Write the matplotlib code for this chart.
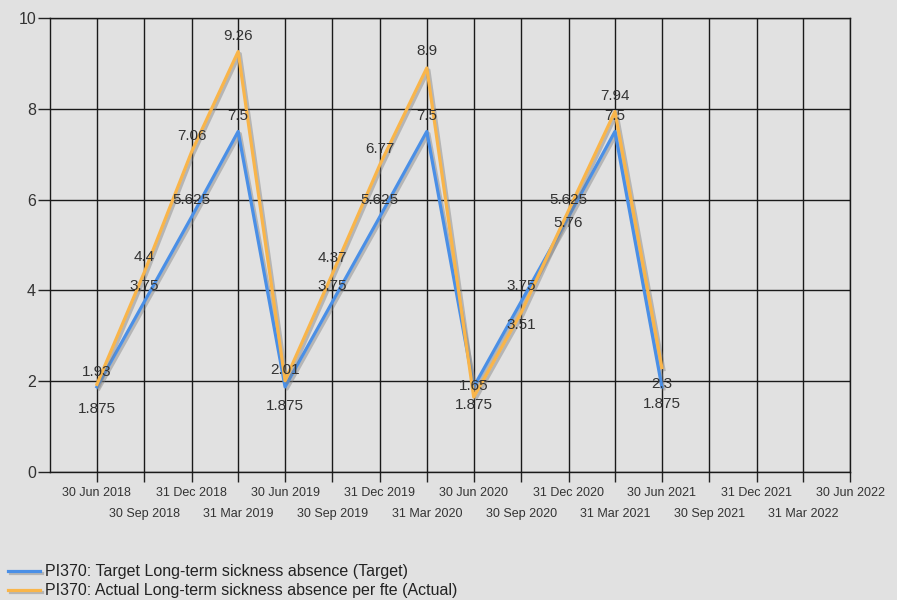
import pandas as pd
import matplotlib
matplotlib.use("Agg")
import matplotlib.pyplot as plt
import matplotlib.patheffects as pe

plt.rcParams['font.family'] = ['Liberation Sans', 'DejaVu Sans']

# quarter-end reporting dates
dates = ["2018-06-30", "2018-09-30", "2018-12-31", "2019-03-31", "2019-06-30",
         "2019-09-30", "2019-12-31", "2020-03-31", "2020-06-30", "2020-09-30",
         "2020-12-31", "2021-03-31", "2021-06-30"]
target = [1.875, 3.75, 5.625, 7.5, 1.875, 3.75, 5.625, 7.5, 1.875, 3.75, 5.625, 7.5, 1.875]
actual = [1.93, 4.4, 7.06, 9.26, 2.01, 4.37, 6.77, 8.9, 1.65, 3.51, 5.76, 7.94, 2.3]

target_name = "PI370: Target Long-term sickness absence (Target)"
actual_name = "PI370: Actual Long-term sickness absence per fte (Actual)"

axis_start = "2018-03-31"
axis_end = "2022-06-30"
tick_dates = ["2018-06-30", "2018-09-30", "2018-12-31", "2019-03-31", "2019-06-30",
              "2019-09-30", "2019-12-31", "2020-03-31", "2020-06-30", "2020-09-30",
              "2020-12-31", "2021-03-31", "2021-06-30", "2021-09-30", "2021-12-31",
              "2022-03-31", "2022-06-30"]

x = pd.to_datetime(dates)
ticks = pd.to_datetime(tick_dates)
tick_labels = [d.strftime("%d %b %Y") for d in ticks]

bg = "#e1e1e1"
blue = "#4a8fe6"
orange = "#f9b54a"
txt = "#333333"

fig = plt.figure(figsize=(8.97, 6.0), dpi=100, facecolor=bg)
ax = fig.add_axes([50 / 897, 1 - 472 / 600, 800 / 897, 454 / 600])
ax.set_facecolor(bg)

shadow = [pe.SimpleLineShadow(offset=(1.5, -1.5), shadow_color="#808080", alpha=0.45), pe.Normal()]
ax.plot(x, target, color=blue, lw=2.3, path_effects=shadow, label=target_name, zorder=3)
ax.plot(x, actual, color=orange, lw=2.3, path_effects=shadow, label=actual_name, zorder=4)

# value labels, vertical offset in points (positive = above the point)
target_off = [-16, 11, 12, 11, -14, 11, 12, 11, -13, 11, 12, 11, -12]
actual_off = [9, 11, 11, 11, 8, 11, 11, 12, 8, -9, -9, 11, -12]
for xi, v, dy in zip(x, target, target_off):
    ax.annotate(f"{v:g}", (xi, v), xytext=(0, dy), textcoords="offset points",
                ha="center", va="center", fontsize=11, color=txt, zorder=6)
for xi, v, dy in zip(x, actual, actual_off):
    ax.annotate(f"{v:g}", (xi, v), xytext=(0, dy), textcoords="offset points",
                ha="center", va="center", fontsize=11, color=txt, zorder=6)

ax.set_xlim(pd.Timestamp(axis_start), pd.Timestamp(axis_end))
ax.set_ylim(0, 10)
ax.set_yticks(range(0, 11, 2))

# alternate date labels on two rows
ax.set_xticks(ticks[::2], tick_labels[::2])
ax.set_xticks(ticks[1::2], tick_labels[1::2], minor=True)
ax.tick_params(axis="x", which="major", length=7, width=1, color="#222222",
               labelsize=9, labelcolor=txt, pad=4)
ax.tick_params(axis="x", which="minor", length=7, width=1, color="#222222",
               labelsize=9, labelcolor=txt, pad=19)
ax.tick_params(axis="y", length=9, width=1, color="#222222", labelsize=11.5,
               labelcolor=txt, pad=1)

ax.grid(True, which="both", color="#1a1a1a", lw=1, zorder=1)
ax.set_axisbelow(True)
for s in ax.spines.values():
    s.set_color("#1a1a1a")
    s.set_linewidth(1)

fig.legend(loc="lower left", bbox_to_anchor=(0.002, -0.008), frameon=False,
           fontsize=11.5, handlelength=2.0, handletextpad=0.3, labelspacing=0.25,
           borderaxespad=0.0, labelcolor="#222222")

fig.savefig("out.png", dpi=100, facecolor=bg)
